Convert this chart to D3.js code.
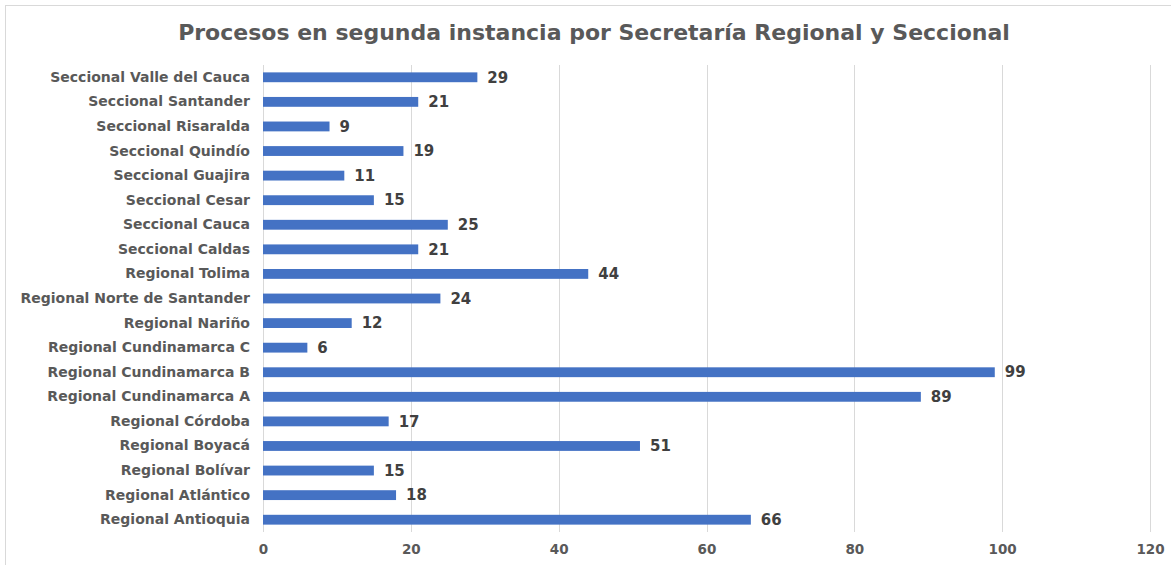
<!DOCTYPE html>
<html>
<head>
<meta charset="utf-8">
<script src="https://cdn.jsdelivr.net/npm/d3@7"></script>
<style>
  body { margin: 0; background: #fff; }
  svg { display: block; font-family: "DejaVu Sans", Verdana, sans-serif; }
</style>
</head>
<body>
<svg width="1171" height="565"></svg>
<script>
const categories = [
  "Seccional Valle del Cauca", "Seccional Santander", "Seccional Risaralda",
  "Seccional Quindío", "Seccional Guajira", "Seccional Cesar", "Seccional Cauca",
  "Seccional Caldas", "Regional Tolima", "Regional Norte de Santander",
  "Regional Nariño", "Regional Cundinamarca C", "Regional Cundinamarca B",
  "Regional Cundinamarca A", "Regional Córdoba", "Regional Boyacá",
  "Regional Bolívar", "Regional Atlántico", "Regional Antioquia"
];
const values = [29, 21, 9, 19, 11, 15, 25, 21, 44, 24, 12, 6, 99, 89, 17, 51, 15, 18, 66];
const xTicks = [0, 20, 40, 60, 80, 100, 120];
const title = "Procesos en segunda instancia por Secretaría Regional y Seccional";

const svg = d3.select("svg");
const width = +svg.attr("width");

// chart frame (only top/left visible in the original)
svg.append("rect")
  .attr("x", 5.5).attr("y", 5.5)
  .attr("width", width + 10).attr("height", 600)
  .attr("fill", "none").attr("stroke", "#d9d9d9");

svg.append("text")
  .attr("x", 594).attr("y", 40)
  .attr("text-anchor", "middle")
  .attr("font-size", "22px").attr("font-weight", "bold")
  .attr("fill", "#595959")
  .text(title);

const margin = {left: 263, right: 21, top: 65, bottom: 33};
const x = d3.scaleLinear().domain([0, 120]).range([margin.left, 1150]);
const y = d3.scaleBand().domain(categories).range([margin.top, 532]).paddingInner(0.6).paddingOuter(0.3);

// gridlines
svg.append("g").selectAll("line")
  .data(xTicks)
  .join("line")
    .attr("x1", d => Math.round(x(d)) + 0.5)
    .attr("x2", d => Math.round(x(d)) + 0.5)
    .attr("y1", margin.top).attr("y2", 532)
    .attr("stroke", "#d9d9d9");

// x axis labels
const xAxis = svg.append("g")
  .attr("transform", "translate(0,532)")
  .call(d3.axisBottom(x).tickValues(xTicks).tickSize(0).tickPadding(12));
xAxis.select(".domain").remove();
xAxis.selectAll("text")
  .attr("font-family", "DejaVu Sans, Verdana, sans-serif")
  .attr("font-size", "13.5px").attr("font-weight", "bold")
  .attr("fill", "#595959");

// y axis labels
const yAxis = svg.append("g")
  .attr("transform", `translate(${margin.left},0)`)
  .call(d3.axisLeft(y).tickSize(0).tickPadding(13));
yAxis.select(".domain").remove();
yAxis.selectAll("text")
  .attr("font-family", "DejaVu Sans, Verdana, sans-serif")
  .attr("font-size", "14px").attr("font-weight", "bold")
  .attr("fill", "#595959");

// bars
svg.append("g").selectAll("rect")
  .data(values)
  .join("rect")
    .attr("x", x(0))
    .attr("y", (d, i) => y(categories[i]))
    .attr("width", d => x(d) - x(0))
    .attr("height", y.bandwidth())
    .attr("fill", "#4472c4");

// value labels
svg.append("g").selectAll("text")
  .data(values)
  .join("text")
    .attr("x", d => x(d) + 10)
    .attr("y", (d, i) => y(categories[i]) + y.bandwidth() / 2)
    .attr("dy", "0.35em")
    .attr("font-size", "15px").attr("font-weight", "bold")
    .attr("fill", "#404040")
    .text(d => d);
</script>
</body>
</html>
